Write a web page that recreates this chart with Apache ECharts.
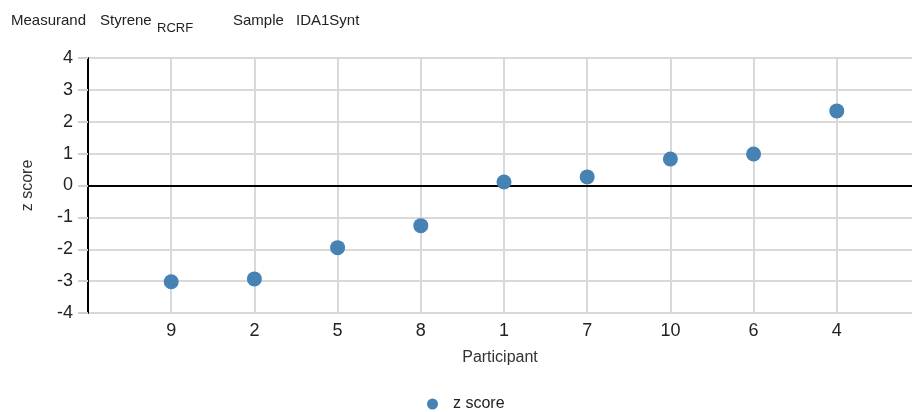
<!DOCTYPE html>
<html>
<head>
<meta charset="utf-8">
<script src="https://cdn.jsdelivr.net/npm/echarts@6/dist/echarts.min.js"></script>
<style>
  html, body { margin: 0; padding: 0; background: #fff; }
  #chart { width: 912px; height: 412px; }
</style>
</head>
<body>
<div id="chart"></div>
<script>
// Participants in plotting order and their z scores
const participants = ['9', '2', '5', '8', '1', '7', '10', '6', '4'];
const zScores = [-3.02, -2.93, -1.95, -1.26, 0.11, 0.27, 0.83, 0.99, 2.34];
const yTicks = [-4, -3, -2, -1, 0, 1, 2, 3, 4];

const FONT = 'Liberation Sans, Arial, sans-serif';

// Each participant sits at position 1..n on a value x axis
const points = zScores.map((z, i) => [i + 1, z]);

const chart = echarts.init(document.getElementById('chart'));
chart.setOption({
  animation: false,
  textStyle: { fontFamily: FONT },
  graphic: [
    { type: 'text', x: 11, y: 21, style: { text: 'Measurand', font: '15px ' + FONT, fill: '#222', verticalAlign: 'middle' } },
    { type: 'text', x: 100, y: 21, style: { text: 'Styrene', font: '15px ' + FONT, fill: '#222', verticalAlign: 'middle' } },
    { type: 'text', x: 157, y: 28, style: { text: 'RCRF', font: '13px ' + FONT, fill: '#222', verticalAlign: 'middle' } },
    { type: 'text', x: 233, y: 21, style: { text: 'Sample', font: '15px ' + FONT, fill: '#222', verticalAlign: 'middle' } },
    { type: 'text', x: 296, y: 21, style: { text: 'IDA1Synt', font: '15px ' + FONT, fill: '#222', verticalAlign: 'middle' } }
  ],
  grid: { left: 88, right: 0, top: 58, bottom: 99, containLabel: false },
  legend: {
    top: 391,
    left: 422,
    itemWidth: 31,
    itemHeight: 11,
    textStyle: { fontSize: 16, color: '#222', fontFamily: FONT },
    data: [{ name: 'z score', icon: 'circle' }]
  },
  xAxis: {
    type: 'value',
    min: 0,
    max: 9.904,
    interval: 1,
    name: 'Participant',
    nameLocation: 'middle',
    nameGap: 37,
    nameTextStyle: { fontSize: 16, color: '#333', fontFamily: FONT },
    axisLine: { show: false },
    axisTick: { show: false },
    splitLine: { show: true, showMaxLine: false, lineStyle: { color: '#d9d9d9', width: 2 } },
    axisLabel: {
      fontSize: 18,
      color: '#222',
      margin: 9,
      fontFamily: FONT,
      showMaxLabel: false,
      formatter: v => (Number.isInteger(v) && v >= 1 && v <= participants.length) ? participants[v - 1] : ''
    }
  },
  yAxis: {
    type: 'value',
    min: yTicks[0],
    max: yTicks[yTicks.length - 1],
    interval: 1,
    name: 'z score',
    nameLocation: 'middle',
    nameGap: 52,
    nameRotate: 90,
    nameTextStyle: { fontSize: 16, color: '#333', fontFamily: FONT },
    axisLine: { show: true, onZero: false, lineStyle: { color: '#000', width: 2 } },
    axisTick: { show: true, length: 10, lineStyle: { color: '#d0d0d0', width: 2 } },
    splitLine: { show: true, lineStyle: { color: '#d9d9d9', width: 2 } },
    axisLabel: { fontSize: 18, color: '#222', margin: 15, fontFamily: FONT }
  },
  series: [{
    name: 'z score',
    type: 'scatter',
    symbol: 'circle',
    symbolSize: 15,
    itemStyle: { color: '#4682b4', opacity: 1 },
    data: points,
    z: 5,
    markLine: {
      silent: true,
      symbol: 'none',
      label: { show: false },
      lineStyle: { color: '#000', width: 2, type: 'solid' },
      data: [{ yAxis: 0 }],
      z: 3
    }
  }]
});
</script>
</body>
</html>
